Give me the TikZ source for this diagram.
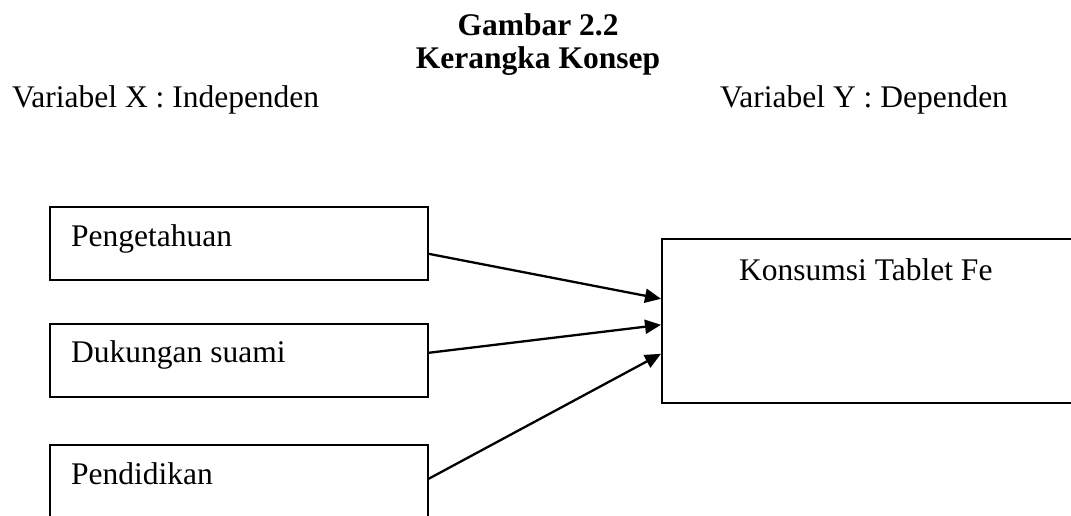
\documentclass[tikz,border=0pt]{standalone}
\usepackage{fontspec}
\setmainfont{Liberation Serif}
\usetikzlibrary{arrows.meta}
\begin{document}
\begin{tikzpicture}[x=1pt,y=-1pt,
  txt/.style={font=\fontsize{31.5}{38}\selectfont, inner sep=0pt},
  ttl/.style={font=\fontsize{31.5}{38}\selectfont\bfseries, inner sep=0pt},
  box/.style={draw, line width=1.6pt, inner sep=0pt, anchor=north west},
  conn/.style={line width=2.3pt, -{Triangle[length=16pt,width=14pt]}}]
\useasboundingbox (0,0) rectangle (1071,515);
\clip (0,0) rectangle (1071,515);
\fill[white] (0,0) rectangle (1071,515);
% title
\node[ttl, anchor=base] (t1) at (538,35) {Gambar 2.2};
\node[ttl, anchor=base] (t2) at (538,68) {Kerangka Konsep};
\node[txt, anchor=base west] (vx) at (12,107) {Variabel X : Independen};
\node[txt, anchor=base west] (vy) at (720,107) {Variabel Y : Dependen};
% boxes
\node[box, minimum width=378pt, minimum height=73pt] (p) at (49,206) {};
\node[txt, anchor=base west] (pt) at (71,246) {Pengetahuan};
\node[box, minimum width=378pt, minimum height=73pt] (d) at (49,323) {};
\node[txt, anchor=base west] (dt) at (71,362) {Dukungan suami};
\node[box, minimum width=378pt, minimum height=100pt] (e) at (49,444) {};
\node[txt, anchor=base west] (et) at (71,484) {Pendidikan};
\node[box, minimum width=429pt, minimum height=164pt] (k) at (661,238) {};
\node[txt, anchor=base west] (kt) at (739,280) {Konsumsi Tablet Fe};
% connectors
\draw[conn] ([yshift=-10.5pt]p.east) -- ([yshift=22pt]k.west);
\draw[conn] ([yshift=7.5pt]d.east) -- ([yshift=-4pt]k.west);
\draw[conn] ([yshift=16pt]e.east) -- ([yshift=-33pt]k.west);
\end{tikzpicture}
\end{document}
